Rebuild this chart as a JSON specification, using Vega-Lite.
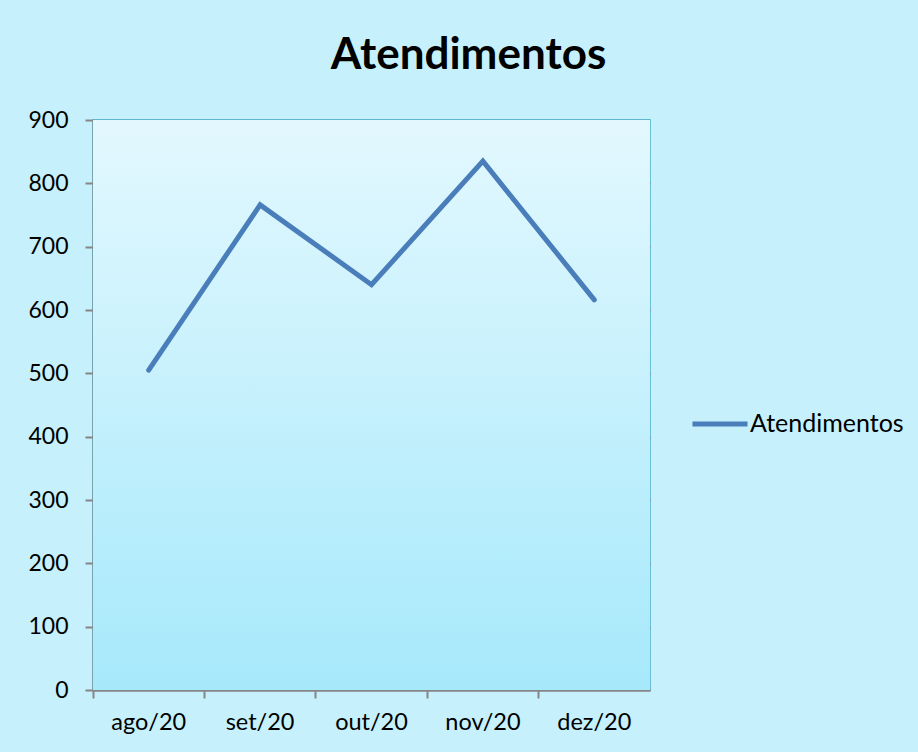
{
  "$schema": "https://vega.github.io/schema/vega-lite/v6.json",
  "width": 557,
  "height": 570,
  "autosize": "none",
  "padding": {"left": 93, "top": 120, "right": 268, "bottom": 62},
  "background": "#c6f0fc",
  "title": {
    "text": "Atendimentos",
    "font": "Lato",
    "fontSize": 44,
    "fontWeight": "bold",
    "color": "#000000",
    "anchor": "middle",
    "frame": "group",
    "baseline": "alphabetic",
    "dx": 97,
    "offset": 48,
    "dy": 52
  },
  "config": {
    "view": {"stroke": "#4fb0c9", "strokeWidth": 1.5},
    "font": "Lato"
  },
  "layer": [
    {
      "data": {"values": [{"bg": 1}]},
      "mark": {
        "type": "rect",
        "fill": {
          "gradient": "linear",
          "x1": 0, "y1": 0, "x2": 0, "y2": 1,
          "stops": [
            {"offset": 0, "color": "#e3f8fe"},
            {"offset": 1, "color": "#a6e9fb"}
          ]
        }
      },
      "encoding": {}
    },
    {
      "data": {
        "values": [
          {"mes": "ago/20", "atendimentos": 505},
          {"mes": "set/20", "atendimentos": 766},
          {"mes": "out/20", "atendimentos": 640},
          {"mes": "nov/20", "atendimentos": 835},
          {"mes": "dez/20", "atendimentos": 616}
        ]
      },
      "mark": {"type": "line", "strokeWidth": 5, "strokeCap": "round", "strokeJoin": "miter"},
      "encoding": {
        "x": {
          "field": "mes",
          "type": "nominal",
          "sort": null,
          "bandPosition": 0.5,
          "scale": {"type": "band", "paddingInner": 0, "paddingOuter": 0},
          "axis": {
            "title": null,
            "labelAngle": 0,
            "labelFontSize": 23.5,
            "labelColor": "#000000",
            "labelPadding": 12,
            "domainColor": "#868686",
            "domainWidth": 2,
            "tickColor": "#868686",
            "tickWidth": 2,
            "tickSize": 8,
            "bandPosition": 0,
            "grid": false
          }
        },
        "y": {
          "field": "atendimentos",
          "type": "quantitative",
          "scale": {"domain": [0, 900], "nice": false},
          "axis": {
            "title": null,
            "values": [0, 100, 200, 300, 400, 500, 600, 700, 800, 900],
            "labelFontSize": 23,
            "labelColor": "#000000",
            "labelPadding": 17,
            "domainColor": "#868686",
            "domainWidth": 2,
            "tickColor": "#868686",
            "tickWidth": 2,
            "tickSize": 8,
            "grid": true,
            "gridColor": {"condition": {"test": "datum.value === 900", "value": "#4fb0c9"}, "value": "#868686"},
            "gridWidth": 2,
            "gridOpacity": 1
          }
        },
        "stroke": {
          "datum": "Atendimentos",
          "type": "nominal",
          "scale": {"range": ["#4a7ebb"]},
          "legend": {
            "title": null,
            "orient": "none",
            "legendX": 597,
            "legendY": 274,
            "symbolType": "stroke",
            "symbolSize": 3025,
            "symbolStrokeWidth": 5,
            "labelFontSize": 25,
            "labelColor": "#000000",
            "labelOffset": 0
          }
        }
      }
    }
  ]
}
